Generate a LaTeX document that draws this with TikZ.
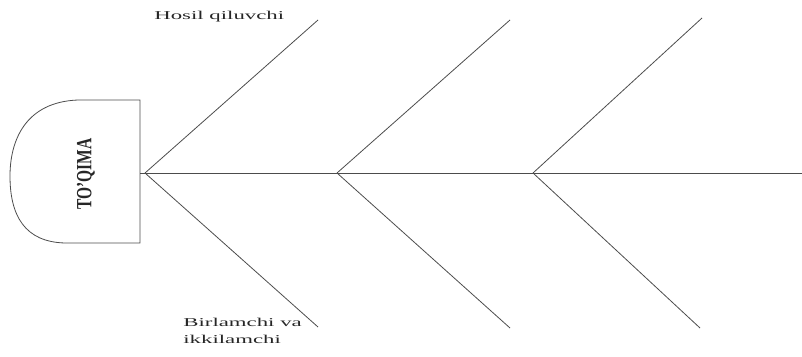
\documentclass[tikz,border=0pt]{standalone}
\usepackage{fontspec}
\setmainfont{Liberation Serif}
\usetikzlibrary{positioning}

\begin{document}
\begin{tikzpicture}[
  x=1pt, y=1pt,
  font=\fontsize{12}{17}\selectfont,
  bone/.style={draw=black!70, line width=0.8pt},
  lbl/.style={inner sep=0pt, xscale=1.9, text=black!85, align=left},
  headtxt/.style={inner sep=0pt, rotate=90, yscale=1.4, text=black!85,
                  font=\bfseries\fontsize{15.5}{15.5}\selectfont}
]
\useasboundingbox (0,0) rectangle (802,356);
% head
\draw[bone] (78,256) .. controls (25,254) and (10,215) .. (10,180)
  .. controls (10,140) and (25,114) .. (65,113) -- (140,113) -- (140,256) -- cycle;
\node[headtxt] (head) at (86,182) {TO'QIMA};
% spine
\coordinate (hd)   at (140,183);
\coordinate (tail) at (802,183);
\coordinate (j1) at (145,183);
\coordinate (j2) at (337,183);
\coordinate (j3) at (533,183);
\coordinate (u1) at (318,336);
\coordinate (u2) at (510,336);
\coordinate (u3) at (702,338);
\coordinate (d1) at (318,29);
\coordinate (d2) at (510,28);
\coordinate (d3) at (700,28);
\draw[bone] (hd) -- (tail);
\draw[bone] (j1) -- (u1);
\draw[bone] (j1) -- (d1);
\draw[bone] (j2) -- (u2);
\draw[bone] (j2) -- (d2);
\draw[bone] (j3) -- (u3);
\draw[bone] (j3) -- (d3);
% labels
\node[lbl, anchor=base west] (top) at (154,336) {Hosil qiluvchi};
\node[lbl, anchor=north west] (bot) at (183,38) {Birlamchi va\\ikkilamchi};
\end{tikzpicture}
\end{document}
